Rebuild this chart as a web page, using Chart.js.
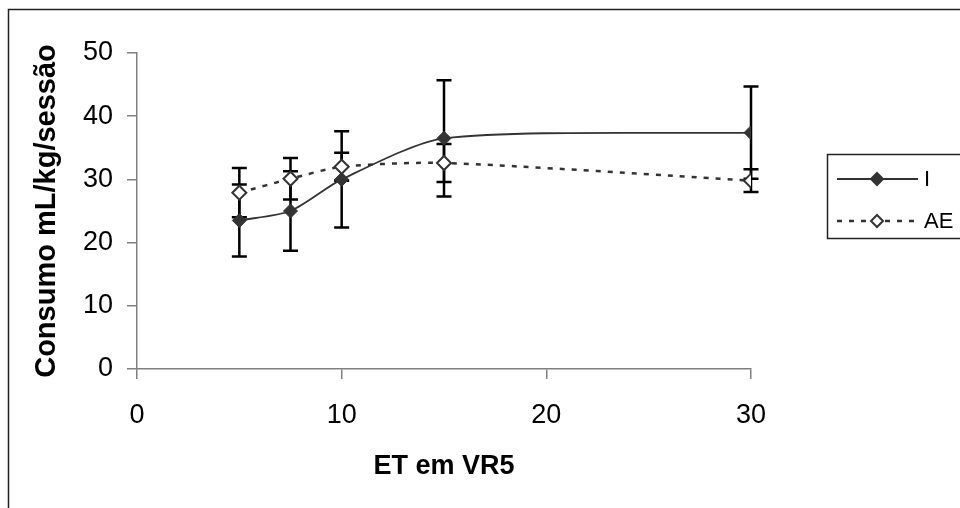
<!DOCTYPE html>
<html>
<head>
<meta charset="utf-8">
<title>Consumo x ET em VR5</title>
<script src="https://cdn.jsdelivr.net/npm/chart.js@4/dist/chart.umd.min.js"></script>
<style>
  html, body { margin: 0; padding: 0; background: #fff; }
  canvas { display: block; }
</style>
</head>
<body>
<canvas id="chart" width="960" height="508"></canvas>
<script>
// Data
const xValues = [5, 7.5, 10, 15, 30];
const seriesI = [23.5, 25.0, 30.0, 36.5, 37.4];
const errorsI = [5.7, 6.3, 7.6, 9.2, 7.3];
const seriesAE = [27.9, 30.1, 32.0, 32.6, 29.8];
const errorsAE = [3.9, 3.3, 2.2, 3.0, 1.8];
const seriesLabels = ['I', 'AE'];
const xTitle = 'ET em VR5';
const yTitle = 'Consumo mL/kg/sessão';

const FONT = "'Liberation Sans', Arial, sans-serif";
const DARK = '#333333';

function toPoints(values) {
    return xValues.map((x, i) => ({ x: x, y: values[i] }));
}

// Outer frame of the picture
const framePlugin = {
    id: 'frame',
    beforeDraw(chart) {
        const ctx = chart.ctx;
        ctx.save();
        ctx.fillStyle = '#fff';
        ctx.fillRect(0, 0, chart.width, chart.height);
        ctx.strokeStyle = '#222';
        ctx.lineWidth = 1.5;
        ctx.strokeRect(8.5, 9.5, 1200, 1200);
        ctx.restore();
    }
};

// Vertical error bars with caps, drawn under lines and markers
const errorBarPlugin = {
    id: 'errorBars',
    beforeDatasetsDraw(chart) {
        const ctx = chart.ctx;
        const xs = chart.scales.x;
        const ys = chart.scales.y;
        ctx.save();
        ctx.strokeStyle = '#000';
        ctx.lineWidth = 2.5;
        chart.data.datasets.forEach(ds => {
            ds.errors.forEach((err, i) => {
                const p = ds.data[i];
                const px = xs.getPixelForValue(p.x);
                const top = ys.getPixelForValue(p.y + err);
                const bottom = ys.getPixelForValue(p.y - err);
                ctx.beginPath();
                ctx.moveTo(px, top);
                ctx.lineTo(px, bottom);
                ctx.moveTo(px - 7.5, top);
                ctx.lineTo(px + 7.5, top);
                ctx.moveTo(px - 7.5, bottom);
                ctx.lineTo(px + 7.5, bottom);
                ctx.stroke();
            });
        });
        ctx.restore();
    }
};

// Boxed legend on the right, like the original
const legendPlugin = {
    id: 'boxLegend',
    afterDraw(chart) {
        const ctx = chart.ctx;
        ctx.save();
        ctx.strokeStyle = '#222';
        ctx.lineWidth = 1.5;
        ctx.strokeRect(827.5, 154.5, 300, 84);
        ctx.font = '22px ' + FONT;
        ctx.textBaseline = 'middle';
        ctx.fillStyle = '#000';
        const rows = [179, 221];
        chart.data.datasets.forEach((ds, i) => {
            const y = rows[i];
            ctx.strokeStyle = ds.borderColor;
            ctx.lineWidth = ds.borderWidth;
            ctx.setLineDash(ds.borderDash || []);
            ctx.beginPath();
            ctx.moveTo(837, y);
            ctx.lineTo(918, y);
            ctx.stroke();
            ctx.setLineDash([]);
            // diamond marker
            const r = 6;
            ctx.beginPath();
            ctx.moveTo(877, y - r);
            ctx.lineTo(877 + r, y);
            ctx.lineTo(877, y + r);
            ctx.lineTo(877 - r, y);
            ctx.closePath();
            ctx.fillStyle = ds.pointBackgroundColor;
            ctx.fill();
            ctx.lineWidth = 2;
            ctx.strokeStyle = ds.pointBorderColor;
            ctx.stroke();
            ctx.fillStyle = '#000';
            ctx.fillText(ds.label, 924, y + 1);
        });
        ctx.restore();
    }
};

new Chart(document.getElementById('chart'), {
    type: 'line',
    data: {
        datasets: [
            {
                label: seriesLabels[0],
                data: toPoints(seriesI),
                errors: errorsI,
                borderColor: DARK,
                borderWidth: 1.8,
                tension: 0.25,
                pointStyle: 'rectRot',
                pointRadius: 7,
                pointBackgroundColor: DARK,
                pointBorderColor: DARK,
                pointBorderWidth: 1
            },
            {
                label: seriesLabels[1],
                data: toPoints(seriesAE),
                errors: errorsAE,
                borderColor: DARK,
                borderWidth: 2.5,
                borderDash: [5, 7],
                tension: 0.25,
                pointStyle: 'rectRot',
                pointRadius: 7,
                pointBackgroundColor: '#fff',
                pointBorderColor: DARK,
                pointBorderWidth: 2
            }
        ]
    },
    options: {
        responsive: false,
        animation: false,
        devicePixelRatio: 1,
        layout: { padding: { top: 53, right: 209, left: 9, bottom: 0 } },
        plugins: {
            legend: { display: false },
            tooltip: { enabled: false }
        },
        scales: {
            x: {
                type: 'linear',
                min: 0,
                max: 30,
                afterFit(scale) { scale.height = 139; },
                ticks: {
                    stepSize: 10,
                    padding: 20,
                    color: '#000',
                    font: { family: FONT, size: 27 }
                },
                grid: { drawOnChartArea: false, drawTicks: true, tickLength: 10, color: '#808080', lineWidth: 1.5 },
                border: { display: true, color: '#808080', width: 1.5 },
                title: {
                    display: true,
                    text: xTitle,
                    color: '#000',
                    font: { family: FONT, size: 27, weight: 'bold' },
                    padding: { top: 0, bottom: 25 }
                }
            },
            y: {
                min: 0,
                max: 50,
                afterFit(scale) { scale.width = 128; },
                ticks: {
                    stepSize: 10,
                    padding: 14,
                    color: '#000',
                    font: { family: FONT, size: 27 }
                },
                grid: { drawOnChartArea: false, drawTicks: true, tickLength: 10, color: '#808080', lineWidth: 1.5 },
                border: { display: true, color: '#808080', width: 1.5 },
                title: {
                    display: true,
                    text: yTitle,
                    color: '#000',
                    font: { family: FONT, size: 29, weight: 'bold' },
                    padding: { top: 21, bottom: 0 }
                }
            }
        }
    },
    plugins: [framePlugin, errorBarPlugin, legendPlugin]
});
</script>
</body>
</html>
